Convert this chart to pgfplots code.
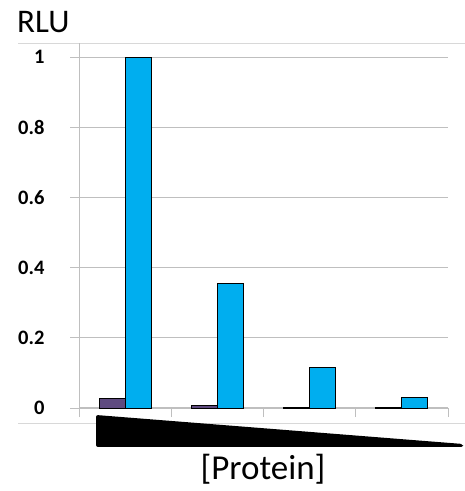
\documentclass[border=0pt]{standalone}
\usepackage{pgfplots}
\pgfplotsset{compat=1.18}
\usepackage{fontspec}
\setmainfont{Carlito}
\definecolor{barpurple}{HTML}{5F4B80}
\definecolor{barblue}{HTML}{00AEEF}
\definecolor{gridgray}{HTML}{BFBFBF}
\begin{document}
\begin{tikzpicture}[x=1pt,y=1pt]
\useasboundingbox (0,0) rectangle (465,491);
\begin{axis}[
  at={(125.125pt,83pt)}, anchor=origin,
  scale only axis, width=369pt, height=365pt,
  xmin=-0.5, xmax=3.5, ymin=0, ymax=1.04,
  ybar, bar width=26pt,
  axis x line=bottom, axis y line=left,
  axis line style={gridgray, -},
  xtick={-0.5,0.5,1.5,2.5,3.5}, xticklabels={},
  major x tick style={gridgray, line width=0.8pt},
  ytick={0,0.2,0.4,0.6,0.8,1},
  yticklabels={0,0.2,0.4,0.6,0.8,1},
  yticklabel style={font=\fontsize{20.5}{20.5}\selectfont\bfseries, xshift=-22pt},
  ymajorgrids, grid style={gridgray, line width=1pt},
  y tick style={gridgray, line width=0.8pt},
  tick align=outside, major tick length=9pt,
  enlargelimits=false, clip=false,
]
\addplot[fill=barpurple, draw=black, line width=0.8pt, bar shift=-13pt] coordinates {(0,0.027) (1,0.008) (2,0.002) (3,0.002)};
\addplot[fill=barblue, draw=black, line width=0.8pt, bar shift=13pt] coordinates {(0,1.0) (1,0.355) (2,0.115) (3,0.03)};
\end{axis}
\draw[gridgray!60, line width=0.6pt] (18,448) -- (465,448);
\draw[gridgray!60, line width=0.6pt] (18,68) -- (465,68);
\draw[gridgray, line width=0.8pt] (79,83) -- (79,448);
\fill[black, rounded corners=2pt] (96,76) -- (96,44) -- (463,44) -- (463,47) -- cycle;
\node[anchor=base west, inner sep=0pt, font=\fontsize{33}{33}\selectfont] at (17,458) {RLU};
\node[anchor=base, inner sep=0pt, font=\fontsize{35}{35}\selectfont] at (263,12) {[Protein]};
\end{tikzpicture}
\end{document}
